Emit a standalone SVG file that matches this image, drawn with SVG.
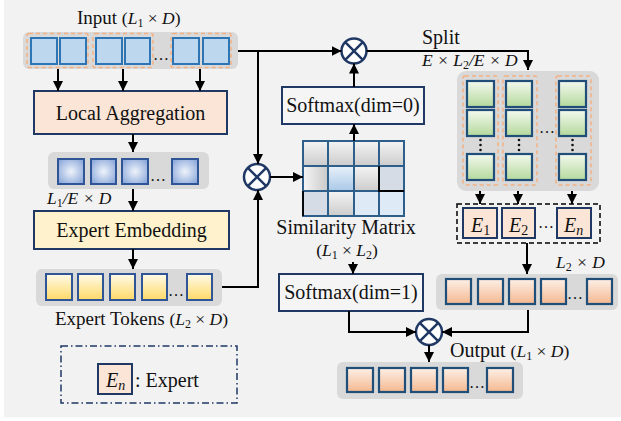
<svg xmlns="http://www.w3.org/2000/svg" width="621" height="421" viewBox="0 0 621 421">
<defs>
<style>
.t{font-family:"Liberation Serif","Times New Roman",serif;font-size:20px;fill:#111}
.m{font-family:"Liberation Serif","Times New Roman",serif;font-size:17.5px;fill:#111}
.i{font-style:italic}
.row{fill:#d9d9d9}
.grp{fill:none;stroke:#f4b183;stroke-width:1.5;stroke-dasharray:4 3}
.sqA{fill:#bdd7ee;stroke:#2e75b6;stroke-width:2}
.sqB{fill:url(#gB);stroke:#2f5597;stroke-width:2}
.sqY{fill:url(#gY);stroke:#2f5597;stroke-width:2}
.sqG{fill:url(#gG);stroke:#1f4e79;stroke-width:2.2}
.sqO{fill:url(#gO);stroke:#1f4e79;stroke-width:2.2}
.box{stroke:#1f3864;stroke-width:2}
.cell{stroke:#2e5f8a;stroke-width:2}
.op circle{fill:#fff;stroke:#1f3864;stroke-width:2.5}
.op path{stroke:#1f3864;stroke-width:2.5;fill:none}
.c{fill:none;stroke:#000;stroke-width:2;marker-end:url(#ah)}
.dot{fill:#111}
</style>
<marker id="ah" viewBox="0 0 10 10" refX="10" refY="5" markerWidth="10" markerHeight="10" markerUnits="userSpaceOnUse" orient="auto"><path d="M0,0 L10,5 L0,10 z" fill="#000"/></marker>
<radialGradient id="gB" cx="50%" cy="50%" r="60%"><stop offset="0" stop-color="#eef3fb"/><stop offset="1" stop-color="#8eaadb"/></radialGradient>
<linearGradient id="gY" x1="0" y1="0" x2="0" y2="1"><stop offset="0" stop-color="#fffbea"/><stop offset="1" stop-color="#ffd966"/></linearGradient>
<linearGradient id="gG" x1="0" y1="0" x2="0" y2="1"><stop offset="0" stop-color="#f3f9ef"/><stop offset="1" stop-color="#b5d99c"/></linearGradient>
<linearGradient id="gO" x1="0" y1="0" x2="0" y2="1"><stop offset="0" stop-color="#fdf0e7"/><stop offset="1" stop-color="#f4b890"/></linearGradient>
<linearGradient id="gGrayV" x1="0" y1="0" x2="0" y2="1"><stop offset="0" stop-color="#f4f4f4"/><stop offset="1" stop-color="#cccccc"/></linearGradient>
<linearGradient id="gGrayH" x1="0" y1="0" x2="1" y2="0"><stop offset="0" stop-color="#f6f6f6"/><stop offset="1" stop-color="#c8c8c8"/></linearGradient>
<linearGradient id="gBlueV" x1="0" y1="0" x2="0" y2="1"><stop offset="0" stop-color="#e8f1fa"/><stop offset="1" stop-color="#a9c8e8"/></linearGradient>
</defs>

<rect x="4" y="0" width="617" height="417" fill="#f2f2f2"/>

<g id="input">
<text class="t" x="77" y="24" style="font-size:19px">Input <tspan class="m">(<tspan class="i">L</tspan><tspan font-size="12" dy="3">1</tspan><tspan dy="-3"> × </tspan><tspan class="i">D</tspan>)</tspan></text>
<rect class="row" x="23" y="32" width="215" height="37" rx="6"/>
<rect class="grp" x="27" y="33.5" width="61" height="34" rx="2"/>
<rect class="grp" x="93" y="33.5" width="60" height="34" rx="2"/>
<rect class="grp" x="171" y="33.5" width="60" height="34" rx="2"/>
<rect class="sqA" x="31" y="38" width="26" height="26"/>
<rect class="sqA" x="60" y="38" width="26" height="26"/>
<rect class="sqA" x="96" y="38" width="26" height="26"/>
<rect class="sqA" x="125" y="38" width="25" height="26"/>
<text class="m" x="153" y="60" style="font-size:16px">…</text>
<rect class="sqA" x="173" y="38" width="26" height="26"/>
<rect class="sqA" x="203" y="38" width="26" height="26"/>
</g>

<g id="local-aggregation">
<rect class="box" x="34" y="91" width="193" height="43" fill="#fbe5d6"/>
<text class="t" x="130.5" y="120" text-anchor="middle">Local Aggregation</text>
</g>

<g id="aggregated-tokens">
<rect class="row" x="48" y="152" width="161" height="37" rx="6"/>
<rect class="sqB" x="58" y="159" width="26" height="25"/>
<rect class="sqB" x="91" y="159" width="25" height="25"/>
<rect class="sqB" x="122" y="159" width="26" height="25"/>
<text class="m" x="150" y="181" style="font-size:16px">…</text>
<rect class="sqB" x="172" y="159" width="26" height="25"/>
<text class="m i" x="47" y="204">L<tspan font-size="12" dy="3" font-style="normal">1</tspan><tspan dy="-3">/E × D</tspan></text>
</g>

<g id="expert-embedding">
<rect class="box" x="34" y="211" width="195" height="38" fill="#fff2cc"/>
<text class="t" x="131.5" y="237" text-anchor="middle">Expert Embedding</text>
</g>

<g id="expert-tokens">
<rect class="row" x="36" y="269" width="186" height="37" rx="6"/>
<rect class="sqY" x="46" y="274" width="26" height="26"/>
<rect class="sqY" x="78" y="274" width="25" height="26"/>
<rect class="sqY" x="110" y="274" width="25" height="26"/>
<rect class="sqY" x="142" y="274" width="25" height="26"/>
<text class="m" x="168" y="296" style="font-size:16px">…</text>
<rect class="sqY" x="187" y="274" width="25" height="26"/>
<text class="t" x="55" y="325" style="font-size:19px">Expert Tokens <tspan class="m">(<tspan class="i">L</tspan><tspan font-size="12" dy="3">2</tspan><tspan dy="-3"> × </tspan><tspan class="i">D</tspan>)</tspan></text>
</g>

<g id="legend">
<rect x="61" y="346" width="176" height="57" fill="none" stroke="#1f3864" stroke-width="1.5" stroke-dasharray="7 3 1.5 3"/>
<rect class="box" x="98" y="364" width="34" height="30" fill="#fbe5d6"/>
<text class="t i" x="106" y="387">E<tspan font-size="14" dy="3">n</tspan></text>
<text class="t" x="135" y="387">: Expert</text>
</g>

<g id="mul-1" class="op">
<circle cx="354" cy="51" r="12.5"/>
<path d="M345.2,42.2 L362.8,59.8 M362.8,42.2 L345.2,59.8"/>
</g>

<g id="mul-2" class="op">
<circle cx="257" cy="177" r="13"/>
<path d="M247.8,167.8 L266.2,186.2 M266.2,167.8 L247.8,186.2"/>
</g>

<g id="mul-3" class="op">
<circle cx="429" cy="332" r="13"/>
<path d="M419.8,322.8 L438.2,341.2 M438.2,322.8 L419.8,341.2"/>
</g>

<g id="softmax-0">
<rect class="box" x="282" y="87" width="142" height="37" fill="#f5f5f5"/>
<text class="t" x="353" y="112" text-anchor="middle">Softmax(dim=0)</text>
</g>

<g id="similarity-matrix">
<rect class="cell" x="303" y="141" width="25" height="25" fill="url(#gGrayV)"/>
<rect class="cell" x="328" y="141" width="26" height="25" fill="url(#gGrayV)"/>
<rect class="cell" x="354" y="141" width="25" height="25" fill="url(#gGrayV)"/>
<rect class="cell" x="379" y="141" width="25" height="25" fill="url(#gGrayV)"/>
<rect class="cell" x="303" y="166" width="25" height="25" fill="url(#gGrayH)"/>
<rect class="cell" x="328" y="166" width="26" height="25" fill="url(#gBlueV)"/>
<rect class="cell" x="354" y="166" width="25" height="25" fill="url(#gGrayV)"/>
<rect class="cell" x="379" y="166" width="25" height="25" fill="#d6dce5"/>
<rect class="cell" x="303" y="191" width="25" height="25" fill="#d6dce5"/>
<rect class="cell" x="328" y="191" width="26" height="25" fill="url(#gGrayV)"/>
<rect class="cell" x="354" y="191" width="25" height="25" fill="#deebf7"/>
<rect class="cell" x="379" y="191" width="25" height="25" fill="#deebf7"/>
<path d="M379,166 V191 H404 M303,191 V216" fill="none" stroke="#000" stroke-width="1.8"/>
<text class="t" x="346" y="234" text-anchor="middle">Similarity Matrix</text>
<text class="m" x="347" y="256" text-anchor="middle">(<tspan class="i">L</tspan><tspan font-size="12" dy="3">1</tspan><tspan dy="-3"> × </tspan><tspan class="i">L</tspan><tspan font-size="12" dy="3">2</tspan><tspan dy="-3">)</tspan></text>
</g>

<g id="softmax-1">
<rect class="box" x="279" y="274" width="144" height="37" fill="#f5f5f5"/>
<text class="t" x="351" y="299" text-anchor="middle">Softmax(dim=1)</text>
</g>

<g id="split">
<text class="t" x="422" y="44">Split</text>
<text class="m i" x="422" y="66">E × L<tspan font-size="12" dy="3" font-style="normal">2</tspan><tspan dy="-3">/E × D</tspan></text>
<rect class="row" x="457" y="71" width="142" height="120" rx="9"/>
<rect class="grp" x="463" y="76" width="35" height="109" rx="2"/>
<rect class="grp" x="503" y="76" width="34" height="109" rx="2"/>
<rect class="grp" x="556" y="76" width="35" height="109" rx="2"/>
<rect class="sqG" x="467" y="81" width="27" height="26"/>
<rect class="sqG" x="467" y="110" width="27" height="26"/>
<rect class="sqG" x="467" y="154" width="27" height="26"/>
<rect class="sqG" x="506" y="81" width="26" height="26"/>
<rect class="sqG" x="506" y="110" width="26" height="26"/>
<rect class="sqG" x="506" y="154" width="26" height="26"/>
<rect class="sqG" x="559" y="81" width="27" height="26"/>
<rect class="sqG" x="559" y="110" width="27" height="26"/>
<rect class="sqG" x="559" y="154" width="27" height="26"/>
<circle class="dot" cx="480.5" cy="140" r="1.3"/><circle class="dot" cx="480.5" cy="145" r="1.3"/><circle class="dot" cx="480.5" cy="150" r="1.3"/>
<circle class="dot" cx="519" cy="140" r="1.3"/><circle class="dot" cx="519" cy="145" r="1.3"/><circle class="dot" cx="519" cy="150" r="1.3"/>
<circle class="dot" cx="572.5" cy="140" r="1.3"/><circle class="dot" cx="572.5" cy="145" r="1.3"/><circle class="dot" cx="572.5" cy="150" r="1.3"/>
<text class="m" x="539" y="133" style="font-size:16px">…</text>
</g>

<g id="experts">
<rect x="457" y="204" width="143" height="39" fill="none" stroke="#000" stroke-width="1.5" stroke-dasharray="5 3"/>
<rect class="box" x="463" y="208" width="34" height="30" fill="#fbe5d6"/>
<text class="t i" x="471" y="232">E<tspan font-size="14" dy="3" font-style="normal">1</tspan></text>
<rect class="box" x="502" y="208" width="33" height="30" fill="#fbe5d6"/>
<text class="t i" x="509" y="232">E<tspan font-size="14" dy="3" font-style="normal">2</tspan></text>
<text class="m" x="538" y="228" style="font-size:16px">…</text>
<rect class="box" x="557" y="208" width="34" height="30" fill="#fbe5d6"/>
<text class="t i" x="564" y="232">E<tspan font-size="14" dy="3">n</tspan></text>
</g>

<g id="expert-outputs">
<text class="m i" x="556" y="268">L<tspan font-size="12" dy="3" font-style="normal">2</tspan><tspan dy="-3"> × D</tspan></text>
<rect class="row" x="436" y="274" width="182" height="36" rx="6"/>
<rect class="sqO" x="446" y="279" width="25" height="25"/>
<rect class="sqO" x="478" y="279" width="25" height="25"/>
<rect class="sqO" x="509" y="279" width="26" height="25"/>
<rect class="sqO" x="541" y="279" width="25" height="25"/>
<text class="m" x="567" y="299" style="font-size:16px">…</text>
<rect class="sqO" x="587" y="279" width="25" height="25"/>
</g>

<g id="output">
<text class="t" x="450" y="357">Output <tspan class="m">(<tspan class="i">L</tspan><tspan font-size="12" dy="3">1</tspan><tspan dy="-3"> × </tspan><tspan class="i">D</tspan>)</tspan></text>
<rect class="row" x="337" y="362" width="186" height="37" rx="6"/>
<rect class="sqO" x="347" y="368" width="26" height="24"/>
<rect class="sqO" x="379" y="368" width="26" height="24"/>
<rect class="sqO" x="411" y="368" width="26" height="24"/>
<rect class="sqO" x="443" y="368" width="25" height="24"/>
<text class="m" x="469" y="388" style="font-size:16px">…</text>
<rect class="sqO" x="487" y="368" width="26" height="24"/>
</g>

<g id="connectors">
<path class="c" d="M58,69 V91"/>
<path class="c" d="M123,69 V91"/>
<path class="c" d="M200,69 V91"/>
<path class="c" d="M133,134 V152"/>
<path class="c" d="M133,189 V211"/>
<path class="c" d="M133,249 V269"/>
<path class="c" d="M238,51 H341.5"/>
<path class="c" d="M258,51 V164"/>
<path class="c" d="M222,287 H258 V190"/>
<path class="c" d="M270,177 H303"/>
<path class="c" d="M354,141 V124"/>
<path class="c" d="M354,87 V63.5"/>
<path class="c" d="M366.5,51 H528 V70"/>
<path class="c" d="M353,262 V274"/>
<path class="c" d="M349,311 V332 H416"/>
<path class="c" d="M480,191 V204"/>
<path class="c" d="M518,191 V204"/>
<path class="c" d="M572,191 V204"/>
<path class="c" d="M527,243 V274"/>
<path class="c" d="M528,310 V332 H442"/>
<path class="c" d="M429,345 V362"/>
</g>
</svg>
